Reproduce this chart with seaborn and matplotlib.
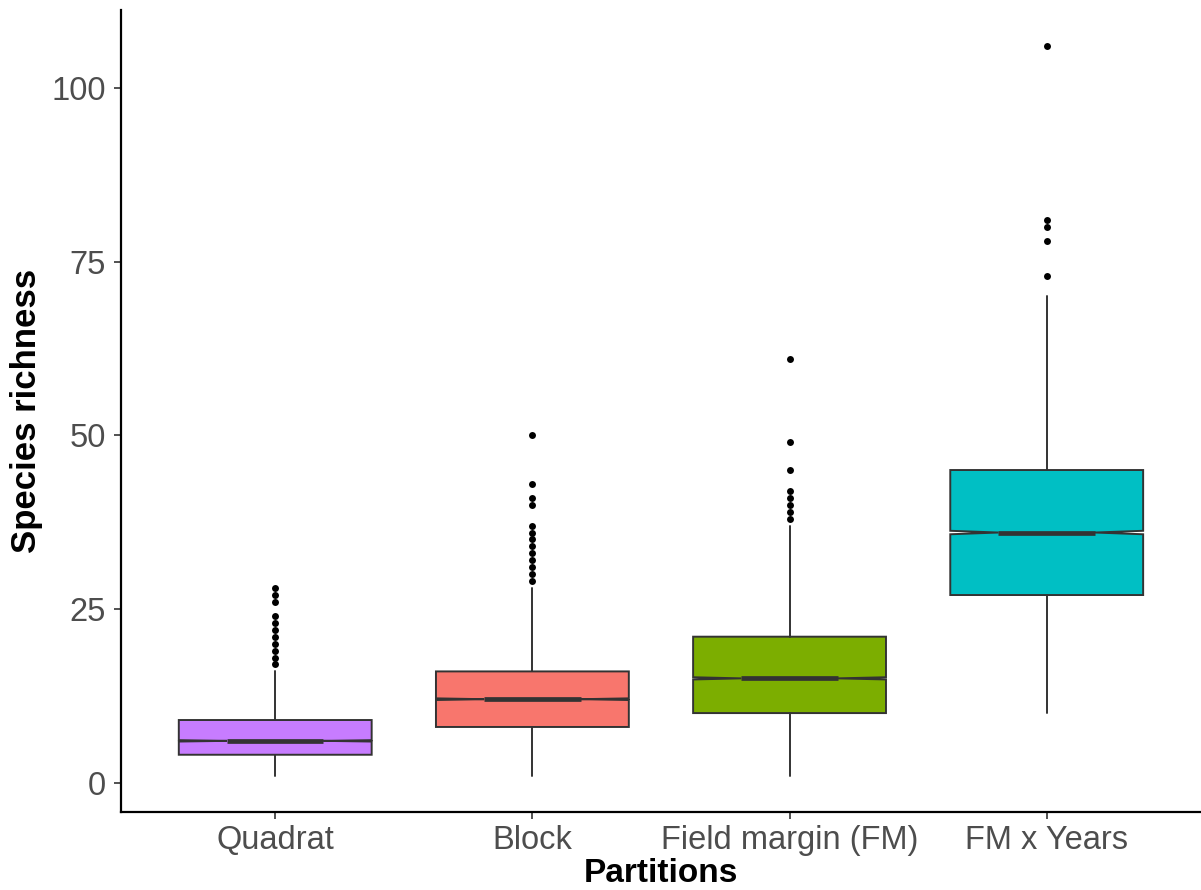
import numpy as np
import pandas as pd
import matplotlib
matplotlib.use("Agg")
import matplotlib.pyplot as plt
from matplotlib import font_manager
import seaborn as sns

# categories and box colours
partitions = ["Quadrat", "Block", "Field margin (FM)", "FM x Years"]
box_colors = ["#C77CFF", "#F8766D", "#7CAE00", "#00BFC4"]

# box summary values
whisk_low = [1, 1, 1, 10]
q1 = [4, 8, 10, 27]
median = [6, 12, 15, 36]
q3 = [9, 16, 21, 45]
whisk_high = [16, 28, 37, 70]
notch_half = [0.1, 0.12, 0.16, 0.25]

# outlying points
outliers_quadrat = [17, 18, 19, 20, 21, 22, 23, 24, 26, 27, 28]
outliers_block = [29, 30, 31, 32, 33, 34, 35, 36, 37, 40, 41, 43, 50]
outliers_fm = [38, 39, 40, 41, 42, 45, 49, 61]
outliers_fm_years = [73, 78, 80, 81, 106]

sns.set_theme(style="ticks")
installed = {f.name for f in font_manager.fontManager.ttflist}
base_font = "Liberation Sans" if "Liberation Sans" in installed else "DejaVu Sans"
plt.rcParams["font.family"] = [base_font, "DejaVu Sans"]

fig = plt.figure(figsize=(12.01, 8.9), dpi=100)
ax = fig.add_axes([0.1007, 0.0876, 0.8993, 0.9012])

stats = []
for i, name in enumerate(partitions):
    stats.append({
        "label": name,
        "whislo": whisk_low[i], "q1": q1[i], "med": median[i],
        "q3": q3[i], "whishi": whisk_high[i],
        "cilo": median[i] - notch_half[i], "cihi": median[i] + notch_half[i],
        "fliers": [],
    })

line_col = "#333333"
bp = ax.bxp(stats, positions=range(len(partitions)), widths=0.75, shownotches=True,
            patch_artist=True, showfliers=False, showcaps=False, manage_ticks=False,
            boxprops=dict(edgecolor=line_col, linewidth=1.4),
            medianprops=dict(color=line_col, linewidth=3.4, solid_capstyle="butt"),
            whiskerprops=dict(color=line_col, linewidth=1.4))
for patch, col in zip(bp["boxes"], box_colors):
    patch.set_facecolor(col)

outlier_df = pd.DataFrame({
    "partition": (["Quadrat"] * len(outliers_quadrat) + ["Block"] * len(outliers_block)
                  + ["Field margin (FM)"] * len(outliers_fm)
                  + ["FM x Years"] * len(outliers_fm_years)),
    "richness": outliers_quadrat + outliers_block + outliers_fm + outliers_fm_years,
})
sns.stripplot(data=outlier_df, x="partition", y="richness", order=partitions,
              jitter=False, color="black", size=5, linewidth=0, ax=ax, zorder=5)

ax.set_xlim(-0.6, 3.6)
ax.set_ylim(-4.25, 111.25)
ax.set_yticks([0, 25, 50, 75, 100])
ax.set_xticks(range(len(partitions)))
ax.set_xticklabels(partitions)

sns.despine(ax=ax)
for side in ["left", "bottom"]:
    ax.spines[side].set_color("black")
    ax.spines[side].set_linewidth(1.6)

ax.tick_params(axis="both", labelsize=23.5, labelcolor="#4D4D4D",
               color=line_col, length=5, width=1.2)
ax.tick_params(axis="y", pad=6)
ax.tick_params(axis="x", pad=4)

ax.set_xlabel("Partitions", fontsize=24, fontweight="bold", color="black", labelpad=2)
ax.set_ylabel("Species richness", fontsize=25, fontweight="bold", color="black",
              labelpad=6)

fig.savefig("out.png", dpi=100)
